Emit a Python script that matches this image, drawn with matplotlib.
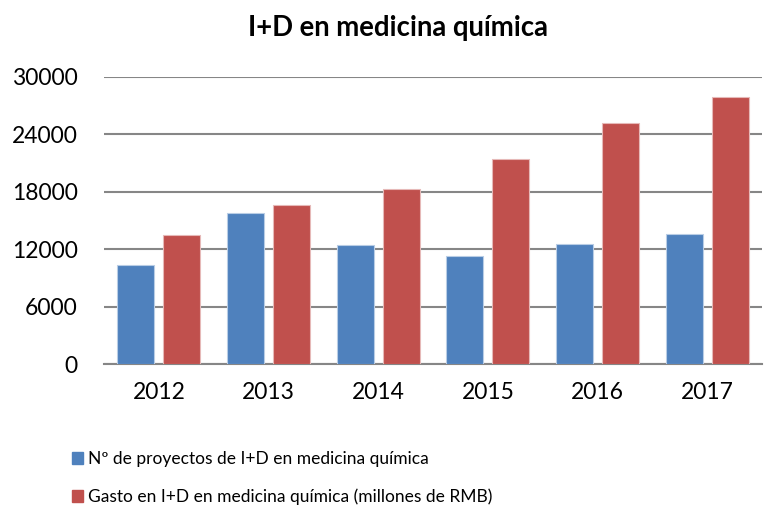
import matplotlib.pyplot as plt
import numpy as np
from matplotlib.patches import Patch

plt.rcParams['font.family'] = ['Lato', 'DejaVu Sans']

years = ['2012', '2013', '2014', '2015', '2016', '2017']
proyectos = [10400, 15750, 12500, 11300, 12600, 13650]
gasto = [13500, 16600, 18350, 21450, 25200, 27900]
labels = ['Nº de proyectos de I+D en medicina química',
          'Gasto en I+D en medicina química (millones de RMB)']
colors = ['#4F81BD', '#C0504D']

fig = plt.figure(figsize=(7.65, 5.13), dpi=100)
ax = fig.add_axes([0.136, 0.29, 0.86, 0.56])

x = np.arange(len(years))
w = 0.337
off = 0.21
ax.bar(x - off, proyectos, w, color=colors[0], edgecolor='#B9CDE5', linewidth=0.8, zorder=3)
ax.bar(x + off, gasto, w, color=colors[1], edgecolor='#E6B9B8', linewidth=0.8, zorder=3)

ax.set_xlim(-0.5, len(years) - 0.5)
ax.set_ylim(0, 30000)
ax.set_yticks(range(0, 30001, 6000))
ax.set_xticks(x)
ax.set_xticklabels(years)
ax.grid(axis='y', color='#868686', linewidth=1.5, zorder=0)
for s in ['top', 'right', 'left']:
    ax.spines[s].set_visible(False)
ax.spines['bottom'].set_color('#868686')
ax.spines['bottom'].set_linewidth(1.5)
ax.tick_params(axis='both', length=0, labelsize=16.5)
ax.tick_params(axis='y', pad=19)
ax.tick_params(axis='x', pad=13)

fig.text(0.52, 0.945, 'I+D en medicina química', ha='center', va='center',
         fontsize=19.8, fontweight='bold')

handles = [Patch(color=c) for c in colors]
fig.legend(handles, labels, loc='upper left', bbox_to_anchor=(0.094, 0.121),
           frameon=False, fontsize=12.5, handlelength=0.65, handleheight=0.65,
           handletextpad=0.3, labelspacing=1.25, borderaxespad=0, borderpad=0)

fig.savefig('out.png', dpi=100)
